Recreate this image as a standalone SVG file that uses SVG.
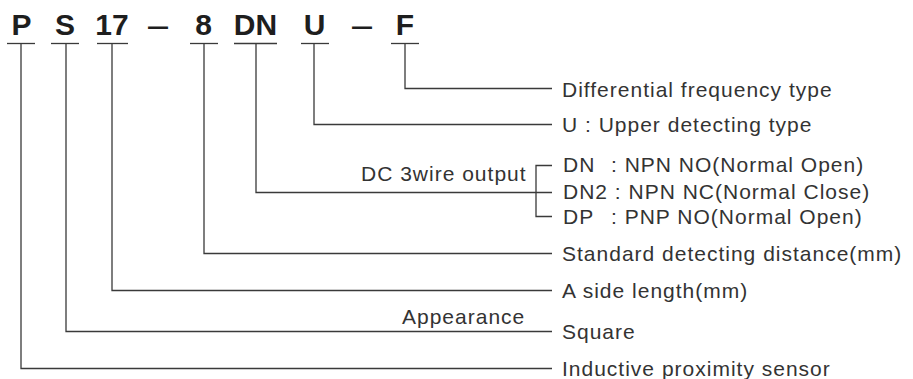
<svg xmlns="http://www.w3.org/2000/svg" width="913" height="379" viewBox="0 0 913 379">
<style>
.code{font-family:"Liberation Sans",Arial,sans-serif;font-weight:bold;font-size:30px;fill:#1e1e1e;text-anchor:middle}
.dash{font-family:"Liberation Sans",Arial,sans-serif;font-size:36px;fill:#1e1e1e;text-anchor:middle}
.lbl{font-family:"Liberation Sans",Arial,sans-serif;font-size:21px;letter-spacing:1px;fill:#333}
.ul{stroke:#3a3a3a;stroke-width:1.3;fill:none}
.con{stroke:#3a3a3a;stroke-width:1.3;fill:none}
</style>
<rect width="913" height="379" fill="#fff"/>
<g id="code">
  <g id="seg-P"><text class="code" x="21.5" y="35">P</text><line class="ul" x1="7" y1="43.5" x2="35" y2="43.5"/></g>
  <g id="seg-S"><text class="code" x="65" y="35">S</text><line class="ul" x1="51" y1="43.5" x2="79" y2="43.5"/></g>
  <g id="seg-17"><text class="code" x="112" y="35">17</text><line class="ul" x1="97" y1="43.5" x2="128" y2="43.5"/></g>
  <g id="dash-1"><text class="dash" x="158" y="36.5">–</text></g>
  <g id="seg-8"><text class="code" x="203.5" y="35">8</text><line class="ul" x1="190" y1="43.5" x2="218" y2="43.5"/></g>
  <g id="seg-DN"><text class="code" x="255.5" y="35">DN</text><line class="ul" x1="234" y1="43.5" x2="277" y2="43.5"/></g>
  <g id="seg-U"><text class="code" x="314.5" y="35">U</text><line class="ul" x1="301" y1="43.5" x2="329" y2="43.5"/></g>
  <g id="dash-2"><text class="dash" x="362" y="36.5">–</text></g>
  <g id="seg-F"><text class="code" x="405" y="35">F</text><line class="ul" x1="391" y1="43.5" x2="419" y2="43.5"/></g>
</g>
<g id="connectors">
  <polyline class="con" points="405,43.5 405,88.5 552,88.5"/>
  <polyline class="con" points="314,43.5 314,124.5 552,124.5"/>
  <polyline class="con" points="256,43.5 256,192.5 552,192.5"/>
  <polyline class="con" points="552,165.5 536,165.5 536,216.5 552,216.5"/>
  <polyline class="con" points="204,43.5 204,253.5 552,253.5"/>
  <polyline class="con" points="112,43.5 112,290.5 552,290.5"/>
  <polyline class="con" points="66,43.5 66,331.5 552,331.5"/>
  <polyline class="con" points="21,43.5 21,368.5 552,368.5"/>
</g>
<g id="label-F"><text class="lbl" x="562" y="96.5">Differential frequency type</text></g>
<g id="label-U"><text class="lbl" x="562" y="132">U : Upper detecting type</text></g>
<g id="label-DC">
  <text class="lbl" x="361" y="181">DC 3wire output</text>
  <text class="lbl" x="563" y="172">DN<tspan x="611">: NPN NO(Normal Open)</tspan></text>
  <text class="lbl" x="563" y="199">DN2 : NPN NC(Normal Close)</text>
  <text class="lbl" x="563" y="224">DP<tspan x="611">: PNP NO(Normal Open)</tspan></text>
</g>
<g id="label-8"><text class="lbl" x="562" y="261">Standard detecting distance(mm)</text></g>
<g id="label-17"><text class="lbl" x="562" y="298">A side length(mm)</text></g>
<g id="label-S">
  <text class="lbl" x="402" y="324">Appearance</text>
  <text class="lbl" x="562" y="338.5">Square</text>
</g>
<g id="label-P"><text class="lbl" x="562" y="375.5">Inductive proximity sensor</text></g>
</svg>
